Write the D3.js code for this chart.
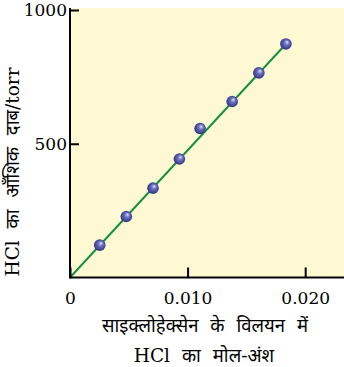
<!DOCTYPE html>
<html>
<head>
<meta charset="utf-8">
<script src="https://cdn.jsdelivr.net/npm/d3@7/dist/d3.min.js"></script>
<style>
  body { margin: 0; background: #fff; }
  .tick text { font-family: "DejaVu Serif", serif; font-size: 17px; fill: #000; }
  .lbl { font-family: "DejaVu Serif", "Noto Sans", serif; font-size: 18.5px; fill: #000; word-spacing: 6px; }
</style>
</head>
<body>
<div id="chart"></div>
<script>
// mole fraction of HCl in cyclohexane vs partial pressure (torr)
var moleFrac = [0.00253, 0.00479, 0.00706, 0.0093, 0.01106, 0.01379, 0.01606, 0.01836];
var pressure = [121, 228, 334, 443, 557, 658, 765, 873];
var fitLine = [[0, 0], [0.01836, 873]];
var xTicks = [0, 0.010, 0.020];
var yTicks = [500, 1000];

var width = 344, height = 367;

var x = d3.scaleLinear().domain([0, 0.0233]).range([70, 344]);
var y = d3.scaleLinear().domain([0, 1000]).range([277.5, 10]);

var svg = d3.select("#chart").append("svg")
    .attr("width", width)
    .attr("height", height);

var defs = svg.append("defs");
var grad = defs.append("radialGradient")
    .attr("id", "ball")
    .attr("cx", "50%").attr("cy", "50%").attr("r", "60%")
    .attr("fx", "62%").attr("fy", "32%");
grad.append("stop").attr("offset", "0%").attr("stop-color", "#dfe1fa");
grad.append("stop").attr("offset", "35%").attr("stop-color", "#6a70c0");
grad.append("stop").attr("offset", "100%").attr("stop-color", "#22266f");

// plot background
svg.append("rect")
    .attr("x", 70).attr("y", 8)
    .attr("width", 344 - 70).attr("height", 277.5 - 8)
    .attr("fill", "#fef8d3");

// fit line
svg.append("path")
    .attr("d", d3.line().x(function(d) { return x(d[0]); }).y(function(d) { return y(d[1]); })(fitLine))
    .attr("fill", "none")
    .attr("stroke", "#159040")
    .attr("stroke-width", 2);

// data points
svg.append("g").selectAll("circle")
    .data(moleFrac)
    .enter().append("circle")
    .attr("cx", function(d) { return x(d); })
    .attr("cy", function(d, i) { return y(pressure[i]); })
    .attr("r", 5.8)
    .attr("fill", "url(#ball)");

// axes
var xAxis = svg.append("g")
    .attr("transform", "translate(0,277.5)")
    .call(d3.axisBottom(x).tickValues(xTicks).tickSizeInner(-10).tickSizeOuter(0)
        .tickFormat(function(d) { return d === 0 ? "0" : d3.format(".3f")(d); }));
xAxis.select(".domain").attr("stroke", "#000").attr("stroke-width", 2)
    .attr("d", "M70,0H344");
xAxis.selectAll(".tick line").attr("stroke-width", 2);
xAxis.selectAll(".tick text").attr("y", 14);

var yAxis = svg.append("g")
    .attr("transform", "translate(70,0)")
    .call(d3.axisLeft(y).tickValues(yTicks).tickSizeInner(-9).tickSizeOuter(0)
        .tickFormat(d3.format("d")));
yAxis.select(".domain").attr("stroke", "#000").attr("stroke-width", 2)
    .attr("d", "M0,8V278.5");
yAxis.selectAll(".tick line").attr("stroke-width", 2);
yAxis.selectAll(".tick text").attr("x", -3);

// axis titles
svg.append("text")
    .attr("class", "lbl")
    .attr("transform", "translate(19,172) rotate(-90)")
    .attr("text-anchor", "middle")
    .text("HCl का आँशिक दाब/torr");

svg.append("text")
    .attr("class", "lbl")
    .attr("x", 205).attr("y", 332)
    .attr("text-anchor", "middle")
    .text("साइक्लोहेक्सेन के विलयन में");

svg.append("text")
    .attr("class", "lbl")
    .attr("x", 204).attr("y", 362)
    .attr("text-anchor", "middle")
    .text("HCl का मोल-अंश");
</script>
</body>
</html>
